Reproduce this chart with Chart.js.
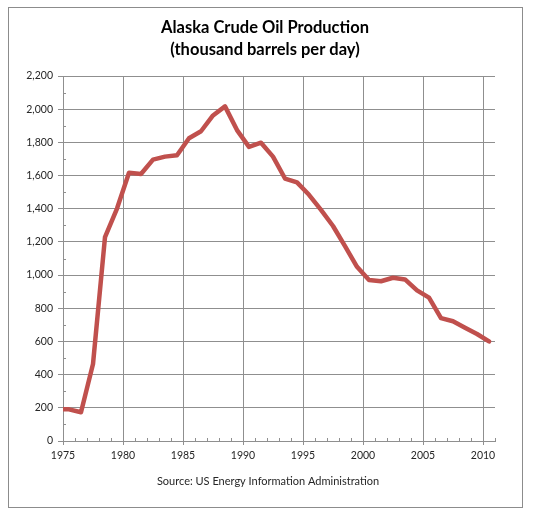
<!DOCTYPE html>
<html>
<head>
<meta charset="utf-8">
<script src="https://cdn.jsdelivr.net/npm/chart.js@4"></script>
<style>
    body { margin: 0; background: #fff; }
    canvas { display: block; }
</style>
</head>
<body>
<canvas id="oilChart" width="533" height="518"></canvas>
<script>
// Alaska crude oil production, thousand barrels per day (EIA)
const years = [1974, 1975, 1976, 1977, 1978, 1979, 1980, 1981, 1982, 1983, 1984, 1985, 1986, 1987,
    1988, 1989, 1990, 1991, 1992, 1993, 1994, 1995, 1996, 1997, 1998, 1999, 2000, 2001, 2002,
    2003, 2004, 2005, 2006, 2007, 2008, 2009, 2010];
const production = [193, 191, 173, 464, 1229, 1401, 1617, 1609, 1696, 1714, 1722, 1825, 1867, 1962,
    2017, 1874, 1773, 1798, 1714, 1582, 1559, 1484, 1393, 1296, 1175, 1050, 970, 963, 984,
    974, 908, 864, 741, 722, 683, 645, 600];
const titleLines = ['Alaska Crude Oil Production', '(thousand barrels per day)'];
const sourceText = 'Source: US Energy Information Administration';

const gridColor = '#8f8f8f';
const textColor = '#262626';

// annual values are plotted at mid-year, like the original spreadsheet chart
const points = years.map((y, i) => ({ x: y + 0.5, y: production[i] }));

// border box, titles, and the small inside tick marks
const decorations = {
    id: 'decorations',
    beforeDraw(chart) {
        const ctx = chart.ctx;
        ctx.save();
        ctx.fillStyle = '#fff';
        ctx.fillRect(0, 0, chart.width, chart.height);
        ctx.strokeStyle = '#8c8c8c';
        ctx.lineWidth = 1;
        ctx.strokeRect(8.5, 7.5, 514, 500);
        ctx.restore();
    },
    beforeDatasetsDraw(chart) {
        const ctx = chart.ctx;
        const x = chart.scales.x, y = chart.scales.y;
        const area = chart.chartArea;
        ctx.save();
        ctx.strokeStyle = gridColor;
        ctx.lineWidth = 1;
        ctx.beginPath();
        for (let yr = 1975; yr <= 2011; yr++) {
            const px = Math.round(x.getPixelForValue(yr)) + 0.5;
            ctx.moveTo(px, area.bottom);
            ctx.lineTo(px, area.bottom - 3);
        }
        for (let v = 100; v <= 2200; v += 200) {
            const py = Math.round(y.getPixelForValue(v)) + 0.5;
            ctx.moveTo(area.left, py);
            ctx.lineTo(area.left + 3, py);
        }
        ctx.stroke();
        ctx.restore();
    },
    afterDraw(chart) {
        const ctx = chart.ctx;
        ctx.save();
        ctx.fillStyle = '#000';
        ctx.textAlign = 'center';
        ctx.textBaseline = 'alphabetic';
        ctx.font = 'bold 16.5px Lato';
        ctx.fillText(titleLines[0], 265, 33);
        ctx.fillText(titleLines[1], 265, 55);
        ctx.font = '11px Lato';
        ctx.fillStyle = textColor;
        ctx.textBaseline = 'middle';
        ctx.fillText(sourceText, 268, 481);
        ctx.restore();
    }
};

new Chart(document.getElementById('oilChart'), {
    type: 'line',
    data: {
        datasets: [{
            label: 'Alaska crude oil production',
            data: points,
            borderColor: '#C0504D',
            borderWidth: 4.5,
            borderJoinStyle: 'round',
            borderCapStyle: 'round',
            pointRadius: 0,
            tension: 0,
            clip: { left: 0, top: 5, right: 5, bottom: 5 }
        }]
    },
    options: {
        responsive: false,
        animation: false,
        layout: { padding: { top: 76, right: 38, left: 0, bottom: 0 } },
        plugins: {
            legend: { display: false },
            tooltip: { enabled: false }
        },
        scales: {
            x: {
                type: 'linear',
                min: 1975,
                max: 2011,
                afterFit(scale) { scale.height = 77; },
                afterBuildTicks(scale) {
                    scale.ticks = [];
                    for (let yr = 1975; yr <= 2011; yr++) scale.ticks.push({ value: yr });
                },
                ticks: {
                    autoSkip: false,
                    maxRotation: 0,
                    padding: 4,
                    color: textColor,
                    font: { family: 'Lato', size: 10.5 },
                    callback: v => (v % 5 === 0 ? String(v) : '')
                },
                grid: {
                    color: c => (c.tick && c.tick.value % 5 === 0 && c.tick.value !== 1975 ? gridColor : 'rgba(0,0,0,0)'),
                    tickColor: c => (c.tick && c.tick.value % 5 === 0 ? gridColor : 'rgba(0,0,0,0)'),
                    tickLength: 4
                },
                border: { color: gridColor, width: 1 }
            },
            y: {
                min: 0,
                max: 2200,
                afterFit(scale) { scale.width = 63; },
                ticks: {
                    stepSize: 200,
                    padding: 5,
                    color: textColor,
                    font: { family: 'Lato', size: 10.5 },
                    callback: v => v.toLocaleString('en-US')
                },
                grid: {
                    color: gridColor,
                    tickColor: gridColor,
                    tickLength: 5
                },
                border: { color: gridColor, width: 1 }
            }
        }
    },
    plugins: [decorations]
});
</script>
</body>
</html>
